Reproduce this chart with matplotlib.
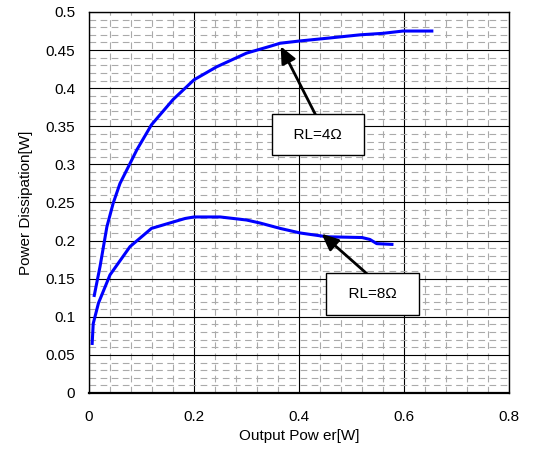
import numpy as np
import matplotlib
matplotlib.use("Agg")
import matplotlib.pyplot as plt
from matplotlib.ticker import MultipleLocator

plt.rcParams['font.family'] = ['Liberation Sans', 'DejaVu Sans']

# RL = 4 ohm curve
p4_x = [0.010, 0.021, 0.034, 0.046, 0.059, 0.078, 0.091, 0.119, 0.16, 0.2, 0.243, 0.30, 0.345, 0.364, 0.402, 0.46, 0.516, 0.56, 0.598, 0.653]
p4_y = [0.128, 0.166, 0.218, 0.249, 0.275, 0.301, 0.319, 0.352, 0.385, 0.411, 0.428, 0.446, 0.455, 0.459, 0.462, 0.466, 0.470, 0.472, 0.475, 0.475]

# RL = 8 ohm curve
p8_x = [0.006, 0.008, 0.018, 0.04, 0.078, 0.119, 0.183, 0.2, 0.25, 0.30, 0.326, 0.364, 0.402, 0.453, 0.52, 0.535, 0.548, 0.577]
p8_y = [0.065, 0.091, 0.118, 0.155, 0.192, 0.216, 0.229, 0.231, 0.231, 0.227, 0.223, 0.216, 0.210, 0.205, 0.204, 0.2015, 0.196, 0.195]

xticks = [0, 0.2, 0.4, 0.6, 0.8]
xlabels = ['0', '0.2', '0.4', '0.6', '0.8']
yticks = [0, 0.05, 0.1, 0.15, 0.2, 0.25, 0.3, 0.35, 0.4, 0.45, 0.5]
ylabels = ['0', '0.05', '0.1', '0.15', '0.2', '0.25', '0.3', '0.35', '0.4', '0.45', '0.5']

fig = plt.figure(figsize=(5.34, 4.54), dpi=100)
ax = fig.add_axes([0.1667, 0.1344, 0.7865, 0.8392])

ax.plot(p4_x, p4_y, color='#0000ff', linewidth=2.2)
ax.plot(p8_x, p8_y, color='#0000ff', linewidth=2.2)

ax.set_xlim(0, 0.8)
ax.set_ylim(0, 0.5)
ax.set_xticks(xticks)
ax.set_xticklabels(xlabels)
ax.set_yticks(yticks)
ax.set_yticklabels(ylabels)
ax.xaxis.set_minor_locator(MultipleLocator(0.04))
ax.yaxis.set_minor_locator(MultipleLocator(0.01))

ax.grid(which='minor', color='#aaaaaa', linestyle=(0, (6, 4)), linewidth=0.8)
ax.grid(which='major', color='black', linestyle='-', linewidth=0.8)
ax.set_axisbelow(True)
ax.tick_params(which='both', length=0, labelsize=11)
ax.tick_params(axis='x', pad=12)
ax.tick_params(axis='y', pad=10)
for s in ax.spines.values():
    s.set_linewidth(1.0)
ax.spines['bottom'].set_linewidth(1.6)

ax.set_xlabel('Output Pow er[W]', fontsize=11, labelpad=4)
ax.set_ylabel('Power Dissipation[W]', fontsize=11, labelpad=9)

arrow = dict(arrowstyle='-|>,head_length=1.0,head_width=0.45', color='black', lw=2.0, shrinkA=0, shrinkB=0)
for label, tip, centre in [('RL=4Ω', (0.365, 0.455), (0.436, 0.339)),
                           ('RL=8Ω', (0.443, 0.209), (0.54, 0.130))]:
    ax.annotate('', xy=tip, xytext=(centre[0], centre[1] + 0.02), arrowprops=arrow)
    ax.text(centre[0], centre[1], '  ' + label + '  ', fontsize=11, ha='center', va='center',
            bbox=dict(boxstyle='square,pad=0.9', fc='white', ec='black', lw=1.0), zorder=5)

fig.savefig('out.png', dpi=100)
